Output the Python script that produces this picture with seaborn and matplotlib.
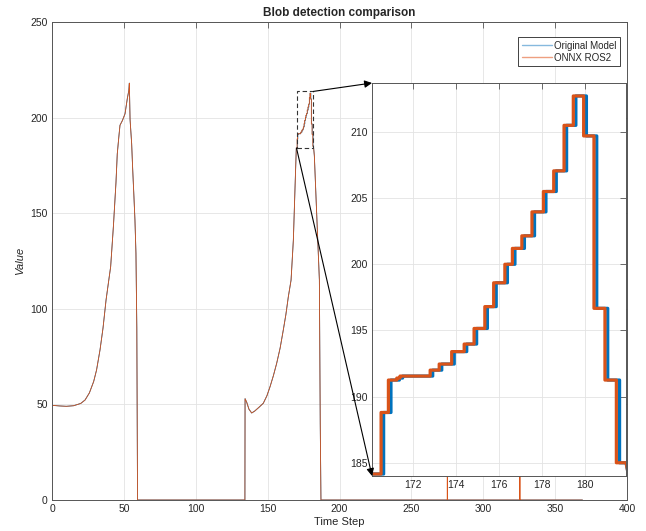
import numpy as np
import pandas as pd
import seaborn as sns
import matplotlib.pyplot as plt
from matplotlib.patches import Rectangle, ConnectionPatch

# smooth part: first blob, gap, second ramp up to the zoomed window
blob_t = [0, 5, 10, 15, 20, 23, 26, 29, 31, 33.4, 35.5, 37.6, 39.5, 40.8, 42.7, 44.5,
          45.4, 46.5, 47.3, 49, 50.8, 52.4, 53.4, 53.8, 54.3, 55.4, 56.1, 57.0, 57.7,
          58.4, 59.0, 59.5,
          134.2, 134.3, 135.5, 137, 138.9, 141, 144, 147, 149.5, 151.7, 154, 156.3,
          158.7, 160.9, 162.7, 164.4, 166.3, 167.9, 169.0, 169.6, 169.95]
blob_v = [49.5, 49.2, 49.0, 49.3, 50.5, 52.3, 56, 62, 68, 78.5, 90, 104.6, 115, 122, 143, 166,
          181, 190, 196, 198.5, 202, 210, 214, 218, 199, 186.5, 173.5, 158.6, 146.4,
          129, 90, 0,
          0, 53, 51, 47.5, 45.5, 46.5, 48.5, 50.6, 54.5, 59.3, 65, 71.5,
          79.5, 88.9, 97, 106.3, 115, 136, 162, 176, 184.15]

# stepped part inside the zoom window
step_levels = [188.8, 191.25, 191.4, 191.55, 192.0, 192.46, 193.4, 193.97, 195.15, 196.8,
               198.6, 200.0, 201.2, 202.15, 203.96, 205.5, 207.06, 210.5, 212.72, 209.7,
               196.67, 191.25, 185.0]
onnx_step_t = [170.52, 170.86, 171.25, 171.4, 172.8, 173.22, 173.8, 174.38, 174.84, 175.34,
               175.75, 176.27, 176.62, 177.06, 177.53, 178.06, 178.54, 179.02, 179.45, 179.93,
               180.41, 180.92, 181.45]
orig_step_t = [170.64, 170.98, 171.37, 171.52, 172.92, 173.34, 173.92, 174.5, 174.96, 175.46,
               175.87, 176.39, 176.74, 177.18, 177.65, 178.18, 178.66, 179.14, 179.57, 180.06,
               180.54, 181.05, 181.6]

# drop after the second blob
fall_t = [181.9, 182.5, 184, 186, 186.6, 187.1]
fall_v = [185, 180, 152, 115, 40, 0]

# zero tail, ONNX has two short spikes
onnx_tail_t = [275.0, 275.0, 275.0, 325.5, 325.5, 325.5, 369.0]
onnx_tail_v = [0, 120, 0, 0, 120, 0, 0]
orig_tail_t = [369.0]
orig_tail_v = [0]


def steps(change_t, levels, start_v):
    t, v, prev = [], [], start_v
    for ct, lv in zip(change_t, levels):
        t += [ct, ct]
        v += [prev, lv]
        prev = lv
    return t, v


def build(step_t, tail_t, tail_v):
    st, sv = steps(step_t, step_levels, blob_v[-1])
    return blob_t + st + fall_t + tail_t, blob_v + sv + fall_v + tail_v


ot, ov = build(orig_step_t, orig_tail_t, orig_tail_v)
nt, nv = build(onnx_step_t, onnx_tail_t, onnx_tail_v)
df = pd.concat([
    pd.DataFrame({"t": ot, "v": ov, "model": "Original Model"}),
    pd.DataFrame({"t": nt, "v": nv, "model": "ONNX ROS2"}),
], ignore_index=True)

palette = {"Original Model": "#0072BD", "ONNX ROS2": "#D95319"}
legend_tint = {"Original Model": "#86b9de", "ONNX ROS2": "#ee9f80"}

sns.set_style("whitegrid")
plt.rcParams["font.family"] = ["Liberation Sans", "DejaVu Sans"]
plt.rcParams["axes.edgecolor"] = "#555555"
plt.rcParams["grid.color"] = "#e3e3e3"
plt.rcParams["grid.linewidth"] = 0.6

fig = plt.figure(figsize=(6.46, 5.31), dpi=100)
ax = fig.add_axes([0.0805, 0.0584, 0.8901, 0.9002])

sns.lineplot(data=df, x="t", y="v", hue="model", palette=palette, sort=False,
             estimator=None, linewidth=0.6, ax=ax)
ax.set_xlim(0, 400)
ax.set_ylim(0, 250)
ax.set_xticks(np.arange(0, 401, 50))
ax.set_yticks(np.arange(0, 251, 50))
ax.set_title("Blob detection comparison", fontsize=8.5, fontweight="bold", pad=4)
ax.set_xlabel("Time Step", fontsize=8, labelpad=2)
ax.set_ylabel("Value", fontsize=8, fontstyle="italic", labelpad=4)
ax.tick_params(direction="in", top=True, right=True, length=4, width=0.6,
               labelsize=7.5, labelcolor="#262626", color="#555555", pad=3)
for s in ax.spines.values():
    s.set_linewidth(0.7)

h, l = ax.get_legend_handles_labels()
leg = ax.legend(h, l, loc="upper right", bbox_to_anchor=(0.988, 0.968), fontsize=7,
                frameon=True, fancybox=False, framealpha=1, edgecolor="#222222",
                handlelength=3.1, handletextpad=0.25, borderpad=0.35, labelspacing=0.2,
                borderaxespad=0)
leg.get_frame().set_linewidth(0.6)
for line, text in zip(leg.get_lines(), leg.get_texts()):
    line.set_linewidth(1.0)
    line.set_color(legend_tint[text.get_text()])

# zoom window
x0, x1, y0, y1 = 170.1, 181.9, 184.0, 213.7
ax.add_patch(Rectangle((x0, y0), x1 - x0, y1 - y0, fill=False, ls=(0, (4, 2.5)),
                       lw=0.8, ec="#333333", zorder=5))

axin = fig.add_axes([0.5759, 0.1036, 0.3932, 0.7401])
sns.lineplot(data=df, x="t", y="v", hue="model", palette=palette, sort=False,
             estimator=None, linewidth=2.3, legend=False, ax=axin)
axin.set_xlim(x0, x1)
axin.set_ylim(y0, y1)
axin.set_xticks(np.arange(172, 181, 2))
axin.set_yticks(np.arange(185, 211, 5))
axin.set_xlabel("")
axin.set_ylabel("")
axin.set_facecolor("white")
axin.grid(True)
axin.tick_params(direction="in", top=True, right=True, length=4, width=0.6,
                 labelsize=7.5, labelcolor="#262626", color="#555555", pad=3)
for s in axin.spines.values():
    s.set_linewidth(0.7)

for xyA, xyB in [((x1, y1), (0, 1)), ((x0, y0), (0, 0))]:
    con = ConnectionPatch(xyA=xyA, coordsA=ax.transData, xyB=xyB,
                          coordsB=axin.transAxes, arrowstyle="-|>",
                          mutation_scale=11, lw=0.8, color="black")
    fig.add_artist(con)

fig.savefig("out.png", dpi=100)
